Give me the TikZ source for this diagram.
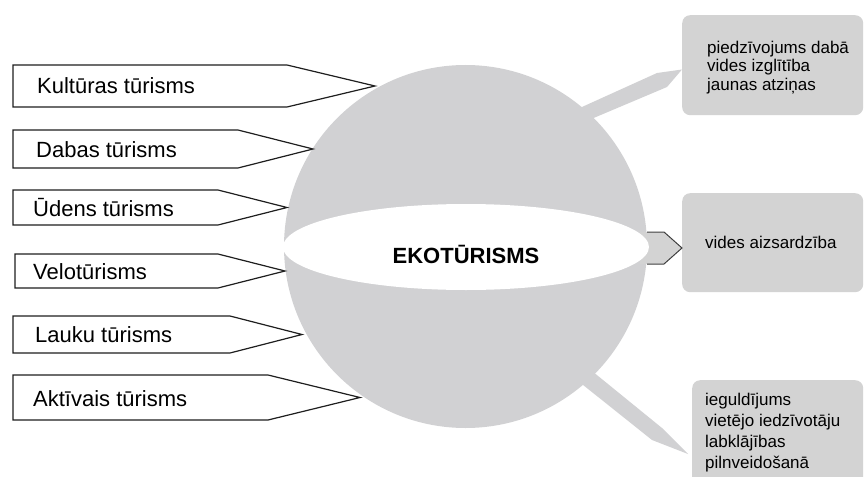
\documentclass[tikz,border=0pt]{standalone}
\usepackage{fontspec}
\setmainfont{Liberation Sans}
\usetikzlibrary{shapes.geometric}
\definecolor{ballgray}{RGB}{209,209,211}
\definecolor{boxgray}{RGB}{211,211,211}
\definecolor{linedark}{RGB}{30,30,30}
\begin{document}
\begin{tikzpicture}[x=1pt,y=-1pt,
  arrowshape/.style={draw=linedark, line width=1.2pt, fill=white, line join=miter},
  lbl/.style={font=\fontsize{22}{26}\selectfont, anchor=base west, inner sep=0pt},
  boxtxt/.style={font=\fontsize{17}{18.7}\selectfont, align=left, anchor=base west, inner sep=0pt},
  infobox/.style={fill=boxgray, rounded corners=8pt, draw=none, inner sep=0pt, anchor=north west},
  spike/.style={fill=ballgray}
]
\useasboundingbox (0,0) rectangle (866,476);
\clip (0,0) rectangle (866,476);

% sphere
\node[circle, fill=ballgray, minimum size=363pt, inner sep=0pt] (ball) at (465.5,246.5) {};

% info boxes
\node[infobox, minimum width=181pt, minimum height=100pt] (b1) at (682,15) {};
\node[infobox, minimum width=181pt, minimum height=99pt] (b2) at (682,193) {};
\node[infobox, minimum width=171pt, minimum height=110pt] (b3) at (692,380) {};

% pointers from sphere to boxes
\fill[spike] (540,126) -- (657,73) -- (682,69.5) -- (667,87) -- (551,136) -- cycle;
\fill[spike] (560,345) -- (662,428) -- (688,454) -- (652,440) -- (548,357) -- cycle;
\fill[boxgray] (640,232) -- (664,232) -- (b2.west |- 0,248) -- (664,264) -- (640,264) -- cycle;
\draw[linedark!85, line width=1pt] (647,232) -- (664,232) -- (b2.west |- 0,248) -- (664,264) -- (647,264);

% equator band
\node[ellipse, fill=white, minimum width=366pt, minimum height=86pt, inner sep=0pt] (band) at (466,247) {};
\node[font=\bfseries\fontsize{22}{26}\selectfont, inner sep=0pt, anchor=base] (title) at (466,263) {EKOTŪRISMS};

% left arrows
\draw[arrowshape] (13,65) -- (287,65) -- (375,86) -- (287,107) -- (13,107) -- cycle;
\node[lbl] (k) at (37,94) {Kultūras tūrisms};
\draw[arrowshape] (13,130) -- (238,130) -- (313,149) -- (238,168) -- (13,168) -- cycle;
\node[lbl] (d) at (36,157) {Dabas tūrisms};
\draw[arrowshape] (13,190) -- (218,190) -- (287,207.5) -- (218,225) -- (13,225) -- cycle;
\node[lbl] (u) at (33,216) {Ūdens tūrisms};
\draw[arrowshape] (15,254) -- (218,254) -- (285,271) -- (218,288) -- (15,288) -- cycle;
\node[lbl] (v) at (33,279.5) {Velotūrisms};
\draw[arrowshape] (13,316) -- (230,316) -- (302,334.5) -- (230,353) -- (13,353) -- cycle;
\node[lbl] (l) at (35,342.5) {Lauku tūrisms};
\draw[arrowshape] (13,375) -- (268,375) -- (360,397.5) -- (268,420) -- (13,420) -- cycle;
\node[lbl] (a) at (33,406) {Aktīvais tūrisms};

% box texts (base anchor = last line's baseline)
\node[boxtxt] (t1) at (707,90.5) {piedzīvojums dabā\\vides izglītība\\jaunas atziņas};
\node[boxtxt] (t2) at (705,248) {vides aizsardzība};
\node[font=\fontsize{17}{21}\selectfont, align=left, anchor=base west, inner sep=0pt] (t3) at (705,468) {ieguldījums\\vietējo iedzīvotāju\\labklājības\\pilnveidošanā};
\end{tikzpicture}
\end{document}
